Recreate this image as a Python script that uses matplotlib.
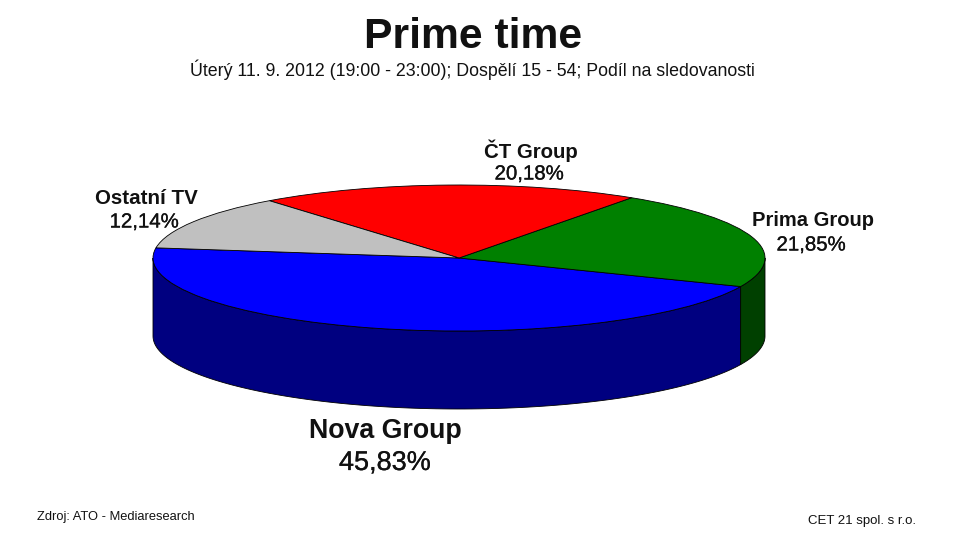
import numpy as np
import matplotlib
matplotlib.use("Agg")
import matplotlib.pyplot as plt
import matplotlib.patheffects as pe

categories = ["Nova Group", "Prima Group", "ČT Group", "Ostatní TV"]
shares = [45.83, 21.85, 20.18, 12.14]
value_labels = ["45,83%", "21,85%", "20,18%", "12,14%"]
top_colors = ["#0000FF", "#008000", "#FF0000", "#C0C0C0"]
side_colors = ["#000080", "#004000", "#800000", "#606060"]
title = "Prime time"
subtitle = "Úterý 11. 9. 2012 (19:00 - 23:00); Dospělí 15 - 54; Podíl na sledovanosti"
source = "Zdroj: ATO - Mediaresearch"
company = "CET 21 spol. s r.o."

W, H = 959, 541
CX, CY, RX, RY, DEPTH = 459, 258, 306, 73, 78
START = 172

plt.rcParams["font.family"] = ["Liberation Sans", "DejaVu Sans"]
fig = plt.figure(figsize=(W / 100, H / 100), dpi=100, facecolor="white")
ax = fig.add_axes([(CX - RX) / W, 1 - (CY + RY) / H, 2 * RX / W, 2 * RY / H])

wedges, _ = ax.pie(shares, colors=top_colors, startangle=START, radius=1,
                   wedgeprops=dict(edgecolor="black", linewidth=0.6, zorder=5))
ax.set_aspect("auto")
ax.set_xlim(-1, 1)
ax.set_ylim(-1, 1)
ax.axis("off")
for w in wedges:
    w.set_clip_on(False)

d = DEPTH / RY
edges = START + np.cumsum([0] + shares) * 3.6
for a0, a1, c in zip(edges[:-1], edges[1:], side_colors):
    # only the part of the rim that faces the viewer (lower half of the ellipse)
    for lo, hi in ((180, 360), (540, 720)):
        s, e = max(a0, lo), min(a1, hi)
        if s < e:
            t = np.radians(np.linspace(s, e, 120))
            x = np.cos(t)
            y = np.sin(t)
            ax.fill(np.r_[x, x[::-1]], np.r_[y, y[::-1] - d], facecolor=c,
                    edgecolor="black", linewidth=0.6, zorder=2, clip_on=False)


def T(px, py, s, size, weight="normal", ha="center", stroke=0.0):
    t = fig.text(px / W, 1 - py / H, s, fontsize=size, fontweight=weight, ha=ha,
                 va="center", color="#111111")
    if stroke:
        t.set_path_effects([pe.withStroke(linewidth=stroke, foreground="#111111")])


T(473, 37, title, 30.7, "bold")
T(472, 70, subtitle, 12.8)
T(385, 431, categories[0], 19.3, "bold")
T(385, 463, value_labels[0], 19.5, stroke=0.2)
T(813, 220, categories[1], 14.5, "bold")
T(811, 245, value_labels[1], 14.7, stroke=0.2)
T(531, 151, categories[2], 14.7, "bold")
T(529, 174, value_labels[2], 14.7, stroke=0.2)
T(146, 198, categories[3], 14.8, "bold")
T(144, 222, value_labels[3], 14.7, stroke=0.2)
T(37, 517, source, 9.3, ha="left")
T(916, 521, company, 9.5, ha="right")

fig.savefig("out.png", dpi=100, facecolor="white")
